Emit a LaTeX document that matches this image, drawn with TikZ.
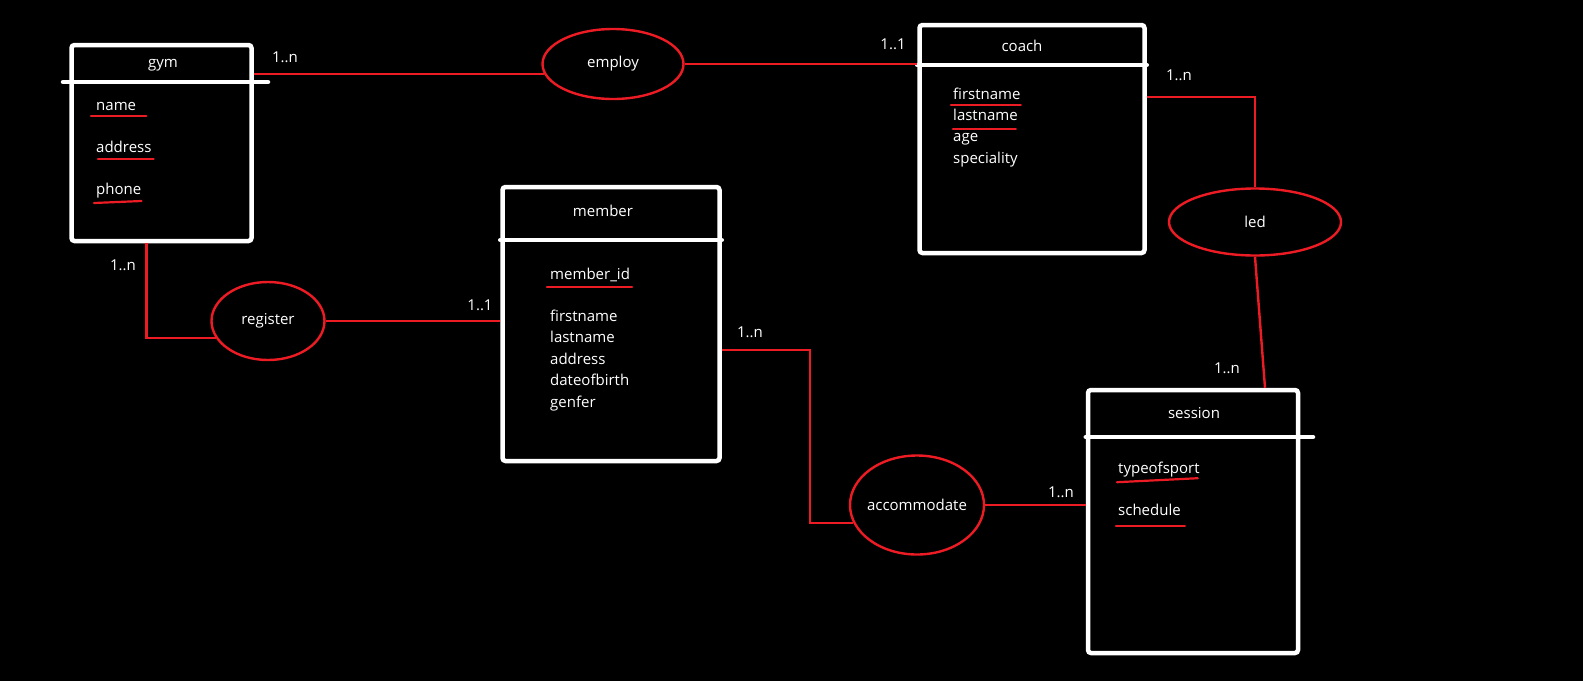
\documentclass[tikz,border=0pt]{standalone}
\usepackage{fontspec}
\setmainfont{Open Sans}
\usetikzlibrary{positioning,shapes.geometric}
\definecolor{pen}{RGB}{237,28,36}

\begin{document}
\begin{tikzpicture}[
  x=1pt, y=-1pt,
  text=white,
  font=\fontsize{15}{18}\selectfont,
  entity/.style={
    draw=white,
    line width=4.5pt,
    rounded corners=3pt
  },
  divider/.style={draw=white, line width=4.5pt, line cap=round},
  ttl/.style={inner sep=0pt},
  attr/.style={
    anchor=west,
    inner sep=0pt,
    text height=8pt,
    text depth=0pt
  },
  rel/.style={
    draw=pen,
    ellipse,
    line width=2.4pt,
    inner sep=0pt
  },
  card/.style={inner sep=0pt},
  edge/.style={draw=pen, line width=2.4pt},
  uline/.style={draw=pen, line width=2.2pt, line cap=round}
]
\fill[black] (0,0) rectangle (1583,681);
\useasboundingbox (0,0) rectangle (1583,681);

% entities
\node[entity, minimum width=180, minimum height=196] (gym) at (161.5,143) {};
\node[entity, minimum width=217, minimum height=274] (member) at (611,324) {};
\node[entity, minimum width=225, minimum height=228] (coach) at (1032,139) {};
\node[entity, minimum width=210, minimum height=263] (session) at (1193,521.5) {};

\draw[divider] (63,82) -- (268,82);
\draw[divider] (member.west |- 0,240) -- (member.east |- 0,240);
\draw[divider] (coach.west |- 0,65) -- (coach.east |- 0,65);
\draw[divider] (session.west |- 0,437) -- (1313,437);

\node[ttl] (gymT) at (163,65) {gym};
\node[ttl] (memberT) at (603,211) {member};
\node[ttl] (coachT) at (1022,46) {coach};
\node[ttl] (sessionT) at (1194,413) {session};

% attributes
\node[attr] (gymName) at (96,106) {name};
\node[attr, below right=34pt and 0pt of gymName.south west] (gymAddr) {address};
\node[attr, below right=34pt and 0pt of gymAddr.south west] (gymPhone) {phone};

\node[attr] (memId) at (550,275) {member\_id};
\node[attr, below right=34pt and 0pt of memId.south west] (memFirst) {firstname};
\node[attr, below right=13pt and 0pt of memFirst.south west] (memLast) {lastname};
\node[attr, below right=13pt and 0pt of memLast.south west] (memAddr) {address};
\node[attr, below right=13pt and 0pt of memAddr.south west] (memBirth) {dateofbirth};
\node[attr, below right=13pt and 0pt of memBirth.south west] (memGen) {genfer};

\node[attr] (coachFirst) at (953,95) {firstname};
\node[attr, below right=13pt and 0pt of coachFirst.south west] (coachLast) {lastname};
\node[attr, below right=13pt and 0pt of coachLast.south west] (coachAge) {age};
\node[attr, below right=13pt and 0pt of coachAge.south west] (coachSpec) {speciality};

\node[attr] (sesType) at (1118,469) {typeofsport};
\node[attr, below right=34pt and 0pt of sesType.south west] (sesSched) {schedule};

% keys
\draw[uline] ([xshift=-5pt,yshift=-6pt]gymName.south west) -- ([xshift=10pt,yshift=-6pt]gymName.south east);
\draw[uline] ([xshift=2pt,yshift=-6pt]gymAddr.south west) -- ([xshift=2pt,yshift=-6pt]gymAddr.south east);
\draw[uline] ([xshift=-2pt,yshift=-8pt]gymPhone.south west) -- ([xshift=0pt,yshift=-6pt]gymPhone.south east);
\draw[uline] ([xshift=-3pt,yshift=-8pt]memId.south west) -- ([xshift=2pt,yshift=-8pt]memId.south east);
\draw[uline] ([xshift=-2pt,yshift=-6pt]coachFirst.south west) -- ([xshift=0pt,yshift=-6pt]coachFirst.south east);
\draw[uline] ([xshift=0pt,yshift=-8pt]coachLast.south west) -- ([xshift=-2pt,yshift=-8pt]coachLast.south east);
\draw[uline] ([xshift=-1pt,yshift=-9pt]sesType.south west) -- ([xshift=-2pt,yshift=-5pt]sesType.south east);
\draw[uline] ([xshift=-2pt,yshift=-10pt]sesSched.south west) -- ([xshift=4pt,yshift=-10pt]sesSched.south east);

% relationships
\node[rel, minimum width=141, minimum height=70, label=center:employ] (employ) at (613,64) {};
\node[rel, minimum width=113, minimum height=78, label=center:register] (register) at (268,321) {};
\node[rel, minimum width=172, minimum height=67, label=center:led] (led) at (1255,222) {};
\node[rel, minimum width=134, minimum height=99, label=center:accommodate] (accommodate) at (917,505) {};

% connectors
\draw[edge] (gym.east |- employ.188) -- (employ.188);
\draw[edge] (employ.east) -- (coach.west |- employ.east);
\draw[edge] ([xshift=-15pt]gym.south) |- (register.198);
\draw[edge] (register.east) -- (member.west |- register.east);
\draw[edge] ([yshift=-26pt]member.east) -- ++(88,0) |- (accommodate.196);
\draw[edge] (accommodate.east) -- (session.west |- accommodate.east);
\draw[edge] ([yshift=42pt]coach.east) -| (led.north);
\draw[edge] (led.south) -- ([xshift=72pt]session.north);

% cardinalities
\node[card] (cGymEmp) at (285,57) {1..n};
\node[card] (cCoachEmp) at (893,44) {1..1};
\node[card] (cGymReg) at (123,265) {1..n};
\node[card] (cMemReg) at (480,305) {1..1};
\node[card] (cMemAcc) at (750,332) {1..n};
\node[card] (cSesAcc) at (1061,492) {1..n};
\node[card] (cCoachLed) at (1179,75) {1..n};
\node[card] (cSesLed) at (1227,368) {1..n};
\end{tikzpicture}
\end{document}
